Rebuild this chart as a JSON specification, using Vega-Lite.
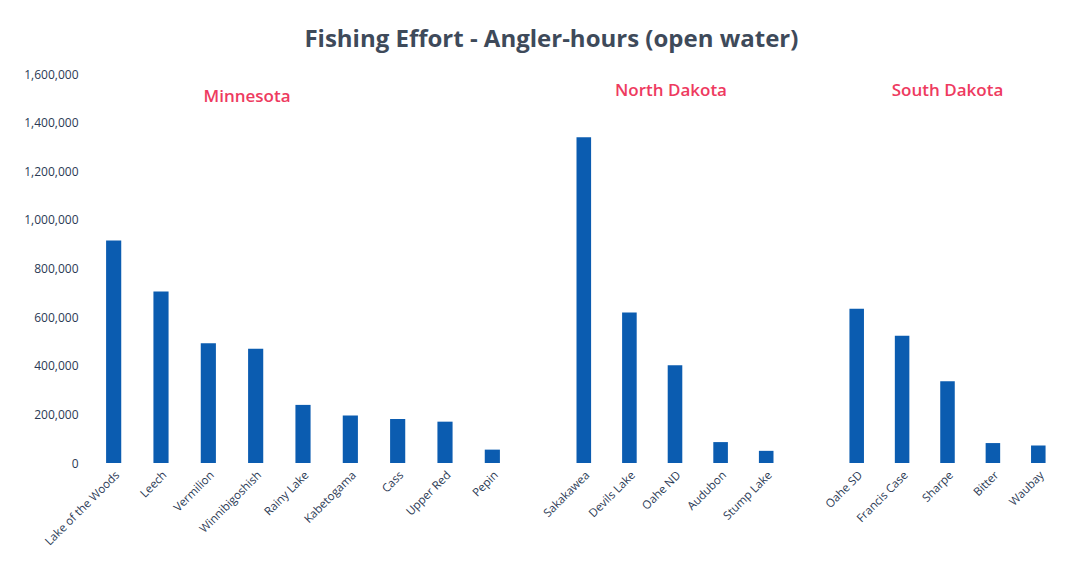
{
  "$schema": "https://vega.github.io/schema/vega-lite/v6.json",
  "background": "#ffffff",
  "padding": {"left": 23, "top": 28, "right": 10, "bottom": 5},
  "autosize": {"type": "pad"},
  "title": {
    "text": "Fishing Effort  - Angler-hours (open water)",
    "fontSize": 24,
    "font": "Open Sans",
    "fontWeight": "bold",
    "color": "#3e4a5a",
    "anchor": "middle",
    "dx": 9,
    "offset": 16
  },
  "datasets": {
    "lakes": [
      {"state": "Minnesota", "lake": "Lake of the Woods", "hours": 915000},
      {"state": "Minnesota", "lake": "Leech", "hours": 705000},
      {"state": "Minnesota", "lake": "Vermilion", "hours": 493000},
      {"state": "Minnesota", "lake": "Winnibigoshish", "hours": 470000},
      {"state": "Minnesota", "lake": "Rainy Lake", "hours": 239000},
      {"state": "Minnesota", "lake": "Kabetogama", "hours": 195000},
      {"state": "Minnesota", "lake": "Cass", "hours": 181000},
      {"state": "Minnesota", "lake": "Upper Red", "hours": 170000},
      {"state": "Minnesota", "lake": "Pepin", "hours": 55000},
      {"state": "North Dakota", "lake": "Sakakawea", "hours": 1340000},
      {"state": "North Dakota", "lake": "Devils Lake", "hours": 619000},
      {"state": "North Dakota", "lake": "Oahe ND", "hours": 402000},
      {"state": "North Dakota", "lake": "Audubon", "hours": 86000},
      {"state": "North Dakota", "lake": "Stump Lake", "hours": 50000},
      {"state": "South Dakota", "lake": "Oahe SD", "hours": 634000},
      {"state": "South Dakota", "lake": "Francis Case", "hours": 523000},
      {"state": "South Dakota", "lake": "Sharpe", "hours": 336000},
      {"state": "South Dakota", "lake": "Bitter", "hours": 82000},
      {"state": "South Dakota", "lake": "Waubay", "hours": 72000}
    ]
  },
  "config": {
    "view": {"stroke": null},
    "font": "Open Sans",
    "axis": {"grid": false, "ticks": false, "domain": false, "labelFont": "Open Sans", "labelColor": "#2b3a55"},
    "title": {"font": "Open Sans", "color": "#ee3a60", "fontSize": 17, "fontWeight": 600}
  },
  "spacing": 45,
  "bounds": "flush",
  "hconcat": [
    {
      "width": 426,
      "height": 389,
      "title": {"text": "Minnesota", "offset": -38, "anchor": "middle", "dx": -56},
      "data": {"name": "lakes"},
      "transform": [{"filter": "datum.state === 'Minnesota'"}],
      "mark": {"type": "bar", "color": "#0b5cb0"},
      "encoding": {
        "x": {"field": "lake", "type": "nominal", "sort": null, "title": null,
              "scale": {"paddingInner": 0.68, "paddingOuter": 0.34},
              "axis": {"labelAngle": -45, "labelFontSize": 11.5, "labelPadding": 6}},
        "y": {"field": "hours", "type": "quantitative", "title": null,
              "scale": {"domain": [0, 1600000], "nice": false},
              "axis": {"values": [0, 200000, 400000, 600000, 800000, 1000000, 1200000, 1400000, 1600000],
                       "format": ",d", "labelFontSize": 12, "labelPadding": 12}}
      }
    },
    {
      "width": 228,
      "height": 389,
      "title": {"text": "North Dakota", "offset": -26, "anchor": "middle", "dx": -4},
      "data": {"name": "lakes"},
      "transform": [{"filter": "datum.state === 'North Dakota'"}],
      "mark": {"type": "bar", "color": "#0b5cb0"},
      "encoding": {
        "x": {"field": "lake", "type": "nominal", "sort": null, "title": null,
              "scale": {"paddingInner": 0.68, "paddingOuter": 0.34},
              "axis": {"labelAngle": -45, "labelFontSize": 11.5, "labelPadding": 6}},
        "y": {"field": "hours", "type": "quantitative", "title": null,
              "scale": {"domain": [0, 1600000], "nice": false},
              "axis": null}
      }
    },
    {
      "width": 227,
      "height": 389,
      "title": {"text": "South Dakota", "offset": -26, "anchor": "middle"},
      "data": {"name": "lakes"},
      "transform": [{"filter": "datum.state === 'South Dakota'"}],
      "mark": {"type": "bar", "color": "#0b5cb0"},
      "encoding": {
        "x": {"field": "lake", "type": "nominal", "sort": null, "title": null,
              "scale": {"paddingInner": 0.68, "paddingOuter": 0.34},
              "axis": {"labelAngle": -45, "labelFontSize": 11.5, "labelPadding": 6}},
        "y": {"field": "hours", "type": "quantitative", "title": null,
              "scale": {"domain": [0, 1600000], "nice": false},
              "axis": null}
      }
    }
  ]
}
